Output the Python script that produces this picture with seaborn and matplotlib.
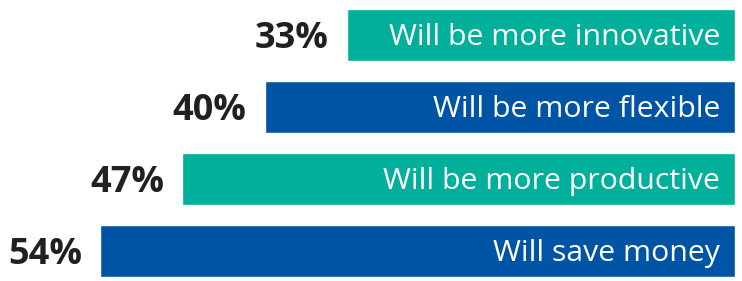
import matplotlib
matplotlib.use('Agg')
import matplotlib.pyplot as plt
import seaborn as sns
import pandas as pd

labels = ['Will be more innovative', 'Will be more flexible',
          'Will be more productive', 'Will save money']
values = [33, 40, 47, 54]
colors = ['#00B09A', '#0054A6', '#00B09A', '#0054A6']

df = pd.DataFrame({'label': labels, 'value': values})

sns.set_style('white')
plt.rcParams['font.family'] = ['Open Sans', 'DejaVu Sans']

fig = plt.figure(figsize=(7.42, 2.81), dpi=100)
ax = fig.add_axes([0, 0, 735 / 742, 1])

sns.barplot(data=df, x='value', y='label', hue='label', palette=colors,
            orient='h', width=0.722, saturation=1, legend=False, ax=ax)

ax.set_xlim(62.5, 0)
ax.set_ylim(3.417, -0.486)
ax.axis('off')

for i, (lab, v) in enumerate(zip(labels, values)):
    ax.annotate(lab, xy=(0, i), xytext=(-15, 1), textcoords='offset pixels',
                ha='right', va='center_baseline', color='white', fontsize=21.8)
    ax.annotate(f'{v}%', xy=(v, i), xytext=(-18, 0), textcoords='offset pixels',
                ha='right', va='center_baseline', color='#231F20',
                fontsize=26, fontweight='bold')

fig.savefig('out.png', dpi=100)
